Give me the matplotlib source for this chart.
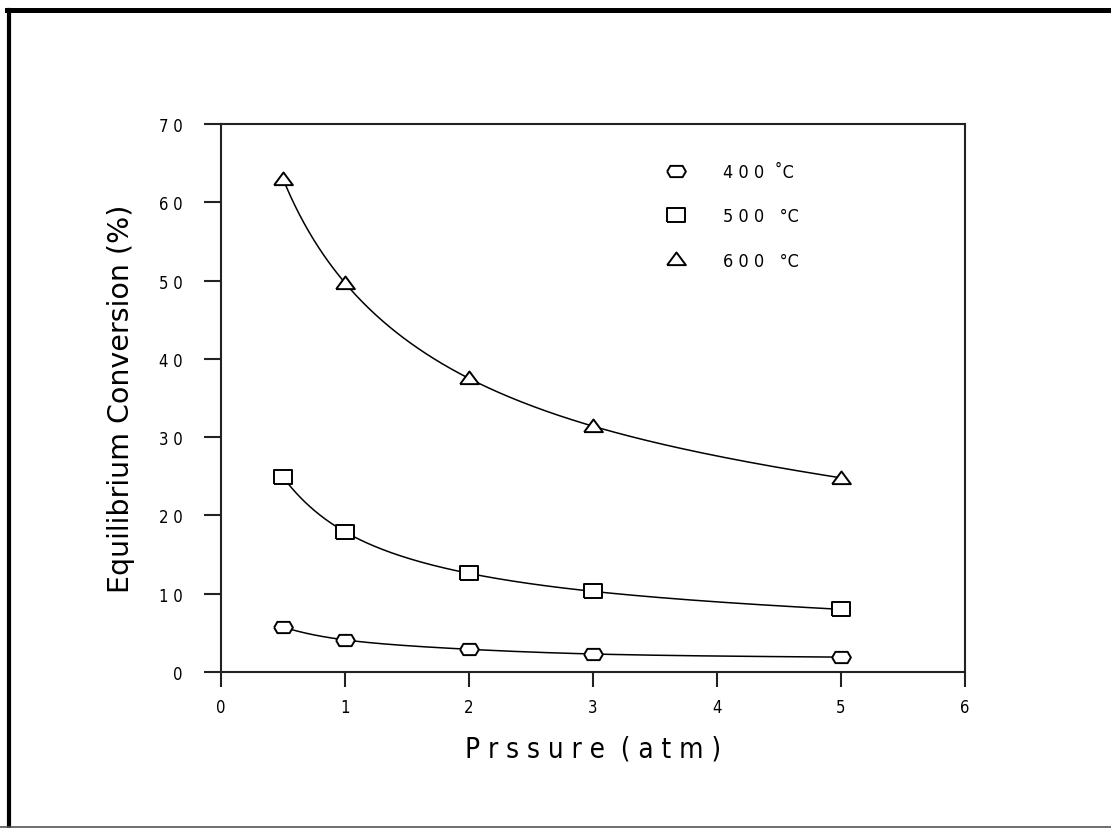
import numpy as np
import matplotlib.pyplot as plt
from matplotlib import font_manager
from matplotlib.lines import Line2D
from matplotlib.ticker import FuncFormatter, MultipleLocator

# data
pressure = [0.5, 1, 2, 3, 5]
conv_400 = [5.75, 4.1, 2.9, 2.3, 1.9]
conv_500 = [24.9, 17.9, 12.6, 10.3, 8.0]
conv_600 = [63.0, 49.7, 37.5, 31.4, 24.8]
labels = ['4 0 0  \u02daC', '5 0 0   \u00b0C', '6 0 0   \u00b0C']

names = {f.name for f in font_manager.fontManager.ttflist}
if 'Liberation Sans Narrow' in names:
    narrow = dict(family='Liberation Sans Narrow')
else:
    narrow = dict(family='DejaVu Sans', stretch='condensed')

# flattened markers like the old plot
m_circle = [(-1, 0), (-0.65, 0.6), (0.65, 0.6), (1, 0), (0.65, -0.6), (-0.65, -0.6), (-1, 0)]
m_square = [(-1, -0.7), (1, -0.7), (1, 0.7), (-1, 0.7), (-1, -0.7)]
m_tri = [(-1, -0.6), (1, -0.6), (0, 0.75), (-1, -0.6)]


def natural_spline(x, y, xs):
    x = np.asarray(x, float)
    y = np.asarray(y, float)
    n = len(x)
    h = np.diff(x)
    A = np.zeros((n, n))
    b = np.zeros(n)
    A[0, 0] = A[-1, -1] = 1
    for i in range(1, n - 1):
        A[i, i - 1] = h[i - 1]
        A[i, i] = 2 * (h[i - 1] + h[i])
        A[i, i + 1] = h[i]
        b[i] = 3 * ((y[i + 1] - y[i]) / h[i] - (y[i] - y[i - 1]) / h[i - 1])
    c = np.linalg.solve(A, b)
    bb = (y[1:] - y[:-1]) / h - h * (2 * c[:-1] + c[1:]) / 3
    d = (c[1:] - c[:-1]) / (3 * h)
    idx = np.clip(np.searchsorted(x, xs) - 1, 0, n - 2)
    t = xs - x[idx]
    return y[idx] + bb[idx] * t + c[idx] * t ** 2 + d[idx] * t ** 3


fig = plt.figure(figsize=(11.11, 8.29), dpi=100)
ax = fig.add_axes([221 / 1111, 1 - 673 / 829, 744 / 1111, 548 / 829])

lx = np.log(pressure)
xs = np.linspace(lx[0], lx[-1], 300)
handles = []
for vals, mk in zip([conv_400, conv_500, conv_600], [m_circle, m_square, m_tri]):
    ax.plot(np.exp(xs), natural_spline(lx, vals, xs), color='black', lw=1.1, zorder=2)
    ax.plot(pressure, vals, linestyle='none', marker=mk, markersize=13.5,
            markerfacecolor='white', markeredgecolor='black', markeredgewidth=1.4, zorder=3)
    handles.append(Line2D([], [], linestyle='none', marker=mk, markersize=13.5,
                          markerfacecolor='white', markeredgecolor='black', markeredgewidth=1.4))

ax.set_xlim(0, 6)
ax.set_ylim(0, 70)
ax.xaxis.set_major_locator(MultipleLocator(1))
ax.yaxis.set_major_locator(MultipleLocator(10))
ax.yaxis.set_major_formatter(FuncFormatter(lambda v, p: ' '.join(str(int(round(v))))))
ax.xaxis.set_major_formatter(FuncFormatter(lambda v, p: str(int(round(v)))))

for s in ax.spines.values():
    s.set_linewidth(1.5)
    s.set_color('#222222')
ax.tick_params(axis='y', direction='out', length=12.5, width=1.5, pad=15, color='#222222')
ax.tick_params(axis='x', direction='out', length=11, width=1.5, pad=8, color='#222222')
for t in ax.get_xticklabels() + ax.get_yticklabels():
    t.set_fontproperties(font_manager.FontProperties(size=12, **narrow))

ax.set_xlabel('P r s s u r e  ( a t m )', fontsize=20, labelpad=13, **narrow)
ax.set_ylabel('Equilibrium Conversion (%)', fontsize=20.5, family='DejaVu Sans', labelpad=17)

leg = ax.legend(handles, labels, loc='upper left', bbox_to_anchor=(0.585, 0.945),
                frameon=False, handlelength=1.2, handletextpad=2.0, labelspacing=1.45,
                borderpad=0, prop=font_manager.FontProperties(size=13, **narrow))

# page border
fig.add_artist(Line2D([7 / 1111, 1], [1 - 11 / 829, 1 - 11 / 829], color='black', lw=3.6,
                      transform=fig.transFigure))
fig.add_artist(Line2D([9 / 1111, 9 / 1111], [0, 1 - 11 / 829], color='black', lw=3.0,
                      transform=fig.transFigure))
fig.add_artist(Line2D([0, 1], [1.5 / 829, 1.5 / 829], color='#555555', lw=1.2,
                      transform=fig.transFigure))

fig.savefig('out.png', dpi=100)
